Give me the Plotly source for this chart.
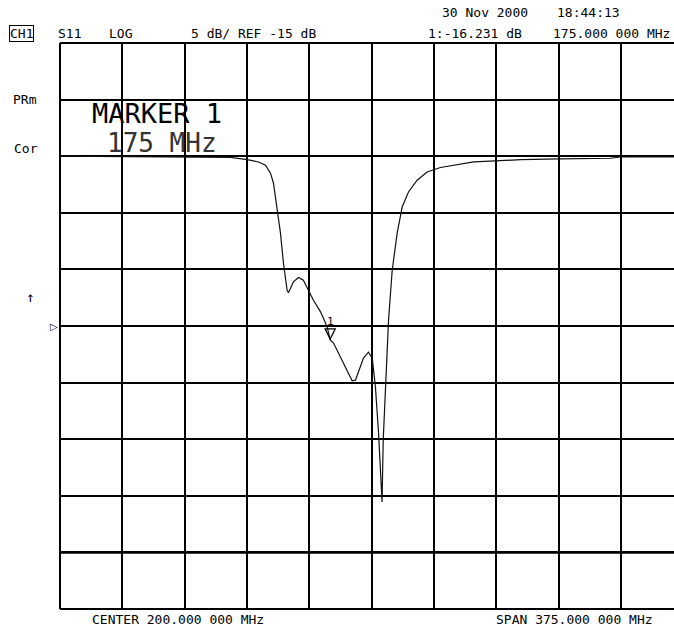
import plotly.graph_objects as go

# ---- data ----
freq_mhz = [12.5, 91.0, 115.0, 125.1, 131.9, 136.1, 139.1, 140.9, 143.1, 145.1,
            146.9, 149.1, 149.9, 152.9, 155.9, 158.9, 161.9, 164.95, 169.2, 173.2,
            175.0, 177.0, 188.2, 190.2, 195.0, 198.0, 200.3, 202.2, 204.1, 205.3,
            206.2, 206.9, 208.3, 210.1, 212.3, 215.3, 218.3, 222.1, 227.3, 233.3,
            241.3, 245.4, 261.4, 274.4, 289.5, 313.5, 343.6, 349.6, 387.5]
s11_db = [0.0, -0.05, -0.1, -0.3, -0.51, -0.8, -1.5, -2.39, -4.48, -6.8,
          -9.45, -11.84, -12.07, -11.1, -10.71, -10.95, -11.84, -12.72, -13.75, -15.08,
          -16.231, -16.51, -19.84, -19.78, -17.84, -17.31, -17.84, -20.37, -24.46, -27.44,
          -30.55, -25.08, -20.37, -14.48, -10.07, -6.8, -4.48, -3.16, -2.12, -1.39,
          -1.0, -0.89, -0.51, -0.42, -0.3, -0.24, -0.18, -0.07, -0.05]

marker_freq = 175.0
marker_db = -16.231
center_mhz = 200.0
span_mhz = 375.0
scale_db = 5.0
ref_db = -15.0

start_mhz = center_mhz - span_mhz / 2
div_mhz = span_mhz / 10

# ---- layout geometry ----
W, H = 674, 627
L, R, T, B = 60, 0, 43, 18
PW, PH = W - L - R, H - T - B
px_per_div = 62.35
x_end = start_mhz + PW / px_per_div * div_mhz

MONO = "DejaVu Sans Mono"


def px(x):
    return (x - L) / PW


def py(y):
    return (H - B - y) / PH


fig = go.Figure()
fig.add_trace(go.Scatter(x=freq_mhz, y=s11_db, mode="lines",
                         line=dict(color="#111111", width=1.2),
                         hoverinfo="skip", showlegend=False))

shapes = []
# borders (left, top, bottom); right edge is cut off by the frame
shapes.append(dict(type="line", xref="paper", yref="paper", x0=0, x1=0, y0=0, y1=1,
                   line=dict(color="black", width=2)))
shapes.append(dict(type="line", xref="paper", yref="paper", x0=0, x1=1, y0=1, y1=1,
                   line=dict(color="black", width=2)))
shapes.append(dict(type="line", xref="paper", yref="paper", x0=0, x1=1, y0=0, y1=0,
                   line=dict(color="black", width=2)))
# thicker line at -35 dB
shapes.append(dict(type="line", xref="paper", yref="y", x0=0, x1=1, y0=-35, y1=-35,
                   line=dict(color="black", width=2.5)))
# marker 1 triangle (apex on the trace)
shapes.append(dict(type="path", xref="x", yref="y",
                   xsizemode="pixel", ysizemode="pixel",
                   xanchor=marker_freq, yanchor=marker_db,
                   path="M -5 11 L 5 11 L 0 1 Z",
                   line=dict(color="black", width=1.3), fillcolor="rgba(0,0,0,0)"))

ann = []


def txt(text, x, y, size=13, anchor="left", **kw):
    d = dict(text=text, xref="paper", yref="paper", x=px(x), y=py(y),
             xanchor=anchor, yanchor="middle", showarrow=False,
             font=dict(family=MONO, size=size, color="black"))
    d.update(kw)
    ann.append(d)


txt("30 Nov 2000", 440, 12)
txt("18:44:13", 555, 12)
txt("CH1", 9, 33, bordercolor="black", borderwidth=1, borderpad=0)
txt("S11", 56, 33)
txt("LOG", 107, 33)
txt("5 dB/ REF -15 dB", 189, 33)
txt("1:-16.231 dB", 426, 33)
txt("175.000 000 MHz", 672, 33, anchor="right")
txt("PRm", 11, 99)
txt("Cor", 12, 148)
txt("↑", 24, 297, size=14)
txt("MARKER 1", 90, 113, size=27)
txt("175 MHz", 105, 143, font=dict(family=MONO, size=26, color="#333333"))
txt("CENTER 200.000 000 MHz", 90, 619)
txt("SPAN 375.000 000 MHz", 655, 619, anchor="right")

# reference position marker
ann.append(dict(text="▷", xref="paper", yref="y", x=0, y=ref_db, xanchor="right",
                yanchor="middle", showarrow=False,
                font=dict(family="DejaVu Sans", size=10, color="black")))
# marker 1 label
ann.append(dict(text="1", xref="x", yref="y", x=marker_freq, y=marker_db, xanchor="center",
                yanchor="bottom", showarrow=False, yshift=10,
                font=dict(family=MONO, size=11, color="black")))

fig.update_layout(
    width=W, height=H,
    margin=dict(l=L, r=R, t=T, b=B, pad=0),
    paper_bgcolor="white", plot_bgcolor="white",
    shapes=shapes, annotations=ann, showlegend=False,
    xaxis=dict(range=[start_mhz, x_end], tick0=start_mhz, dtick=div_mhz,
               showgrid=True, gridcolor="black", gridwidth=1.5,
               showticklabels=False, ticks="", zeroline=False, showline=False,
               fixedrange=True),
    yaxis=dict(range=[ref_db - 5 * scale_db, ref_db + 5 * scale_db],
               tick0=ref_db, dtick=scale_db,
               showgrid=True, gridcolor="black", gridwidth=1.5,
               showticklabels=False, ticks="", zeroline=False, showline=False,
               fixedrange=True),
)

fig.write_html("out.html", config={"displayModeBar": False},
               post_script="document.body.style.margin='0px';")
